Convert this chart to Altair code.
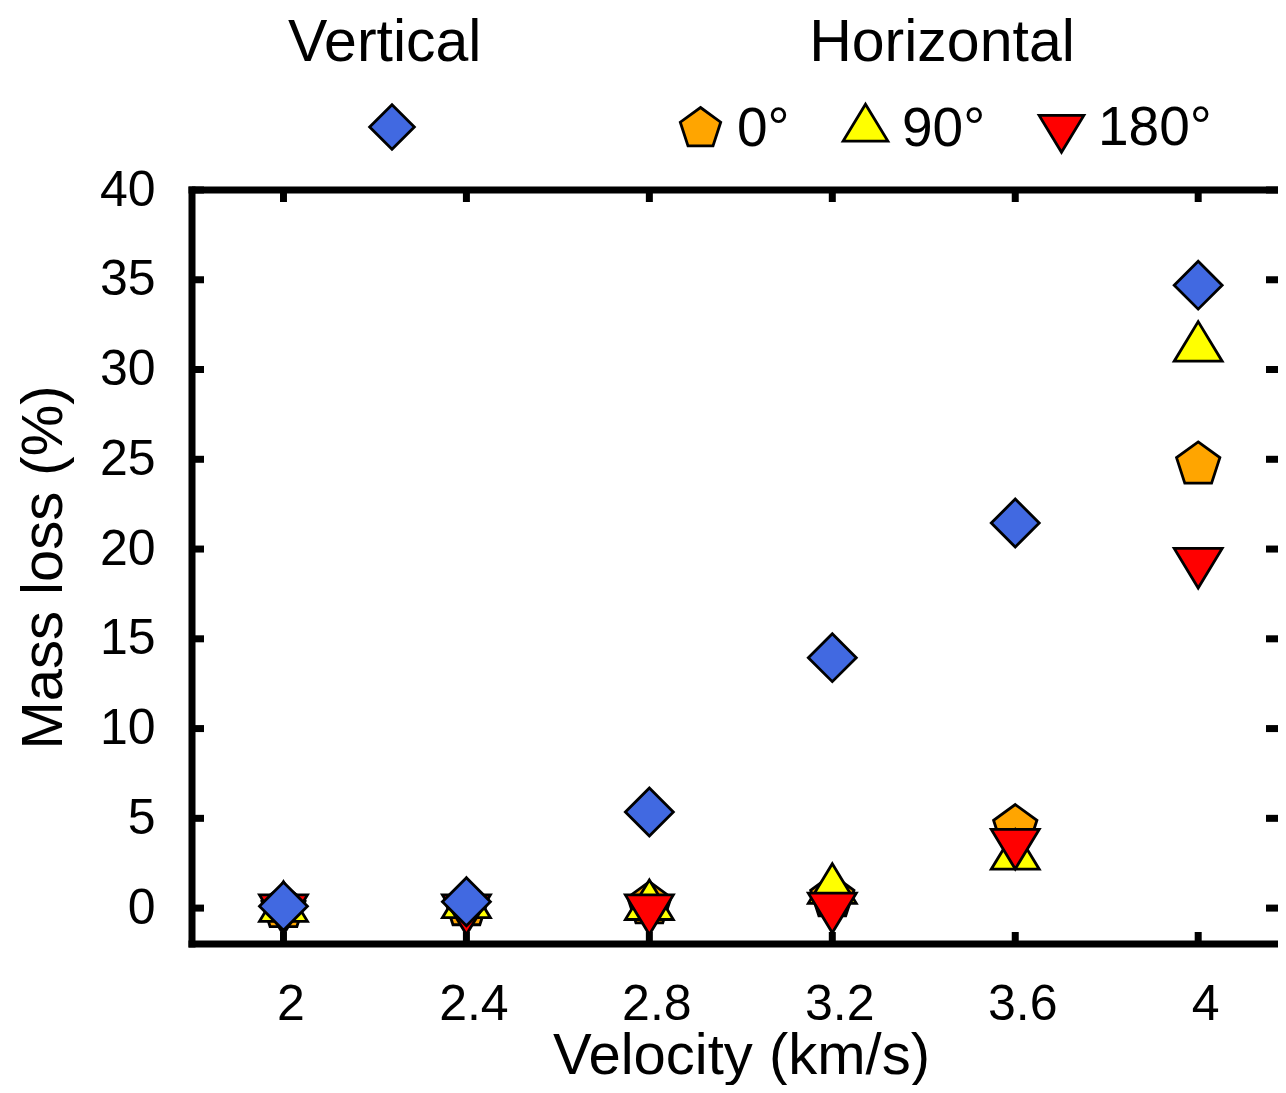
import altair as alt
import pandas as pd

# ---- data ----
velocity = [2.0, 2.4, 2.8, 3.2, 3.6, 4.0]
vertical = [0.1, 0.35, 5.35, 13.95, 21.45, 34.7]
h_0 = [0.0, 0.1, 0.2, 0.6, 4.5, 24.7]
h_90 = [0.0, 0.2, 0.1, 1.0, 2.9, 31.2]
h_180 = [0.0, 0.0, 0.0, 0.1, 3.65, 19.3]
angle_labels = ["0°", "90°", "180°"]
x_ticks = [2.0, 2.4, 2.8, 3.2, 3.6, 4.0]
y_ticks = [0, 5, 10, 15, 20, 25, 30, 35, 40]
x_limits = [1.8, 4.1745]
y_limits = [-2, 40]

# ---- styles ----
BLUE = "#4169E1"
H_COLORS = ["#FFA500", "#FFFF00", "#FF0000"]
PENTAGON = "M0,-0.95L0.904,-0.294L0.559,0.769L-0.559,0.769L-0.904,-0.294Z"
TRI_UP = "M0,-1.1L1,0.55L-1,0.55Z"
TRI_DOWN = "M0,1.1L1,-0.55L-1,-0.55Z"
H_SHAPES = [PENTAGON, TRI_UP, TRI_DOWN]
FONT = "Liberation Sans"
W, H = 1086, 754

vdf = pd.DataFrame({"v": velocity, "m": vertical, "series": ["Vertical"] * len(velocity)})
rows = []
for lab, vals in zip(angle_labels, [h_0, h_90, h_180]):
    for v, m in zip(velocity, vals):
        rows.append({"v": v, "m": m, "angle": lab})
hdf = pd.DataFrame(rows)

xscale = alt.Scale(domain=x_limits, nice=False, zero=False)
yscale = alt.Scale(domain=y_limits, nice=False, zero=False)

xaxis = alt.Axis(title="Velocity (km/s)", values=x_ticks, format="~g", domain=False,
                 ticks=False, tickSize=0, grid=False, labelFontSize=50, labelFont=FONT,
                 labelColor="black", labelPadding=75, labelBaseline="alphabetic",
                 labelOffset=7, labelOverlap=False, labelFlush=False,
                 titleFontSize=58, titleFont=FONT, titleFontWeight="normal",
                 titleColor="black", titleX=549, titleY=129, titleBaseline="alphabetic")
yaxis = alt.Axis(title="Mass loss (%)", values=y_ticks, format="d", domain=False,
                 ticks=False, tickSize=0, grid=False, labelFontSize=50, labelFont=FONT,
                 labelColor="black", labelPadding=37, labelOverlap=False, labelFlush=False,
                 titleFontSize=58, titleFont=FONT, titleFontWeight="normal",
                 titleColor="black", titleX=-131, titleY=H / 2, titleBaseline="alphabetic",
                 titleAlign="center", titleAngle=-90)

X = lambda f: alt.X(f, scale=xscale, axis=xaxis)
Y = lambda f: alt.Y(f, scale=yscale, axis=yaxis)

vleg = alt.Legend(title="Vertical", orient="none", legendX=96, legendY=-176,
                  direction="horizontal", padding=0, titleFontSize=59, titleFont=FONT,
                  titleFontWeight="normal", titleColor="black", titlePadding=30,
                  titleLimit=1000, labelExpr="''", symbolSize=2000,
                  symbolStrokeWidth=2.8, symbolOffset=80)
hleg = alt.Legend(title="Horizontal", orient="none", legendX=481, legendY=-176,
                  direction="horizontal", padding=0, titleFontSize=59, titleFont=FONT,
                  titleFontWeight="normal", titleColor="black", titlePadding=27,
                  titleLimit=1000, titleAnchor="middle", labelFontSize=55, labelFont=FONT,
                  labelColor="black", labelOffset=9, labelLimit=1000, columnPadding=47,
                  gridAlign="each", symbolSize=2000, symbolStrokeWidth=2.8)

# frame lines (top, bottom, left) and inward ticks
frame_h = alt.Chart(pd.DataFrame({"yb": [y_limits[0], y_limits[1]]})).mark_rule(
    color="black", strokeWidth=7, strokeCap="square").encode(y=Y("yb:Q"))
frame_v = alt.Chart(pd.DataFrame({"xb": [x_limits[0]]})).mark_rule(
    color="black", strokeWidth=7, strokeCap="square").encode(x=X("xb:Q"))

ydf = pd.DataFrame({"t": y_ticks})
xdf = pd.DataFrame({"t": x_ticks})
tick_l = alt.Chart(ydf).mark_rule(color="black", strokeWidth=7).encode(
    y=Y("t:Q"), x=alt.value(0), x2=alt.value(12))
tick_r = alt.Chart(ydf).mark_rule(color="black", strokeWidth=7).encode(
    y=Y("t:Q"), x=alt.value(W - 12), x2=alt.value(W))
tick_t = alt.Chart(xdf).mark_rule(color="black", strokeWidth=7).encode(
    x=X("t:Q"), y=alt.value(0), y2=alt.value(12))
tick_b = alt.Chart(xdf).mark_rule(color="black", strokeWidth=7).encode(
    x=X("t:Q"), y=alt.value(H - 12), y2=alt.value(H))

hpts = alt.Chart(hdf).mark_point(filled=True, size=2300, strokeWidth=2.8, opacity=1).encode(
    x=X("v:Q"), y=Y("m:Q"),
    shape=alt.Shape("angle:N", scale=alt.Scale(domain=angle_labels, range=H_SHAPES), legend=hleg),
    fill=alt.Fill("angle:N", scale=alt.Scale(domain=angle_labels, range=H_COLORS), legend=hleg),
    stroke=alt.Stroke("angle:N", scale=alt.Scale(domain=angle_labels, range=["black"] * 3), legend=hleg),
)
vpts = alt.Chart(vdf).mark_point(filled=True, size=2300, strokeWidth=2.8, opacity=1).encode(
    x=X("v:Q"), y=Y("m:Q"),
    shape=alt.Shape("series:N", scale=alt.Scale(domain=["Vertical"], range=["diamond"]), legend=vleg),
    fill=alt.Fill("series:N", scale=alt.Scale(domain=["Vertical"], range=[BLUE]), legend=vleg),
    stroke=alt.Stroke("series:N", scale=alt.Scale(domain=["Vertical"], range=["black"]), legend=vleg),
)

chart = alt.layer(frame_h, frame_v, tick_l, tick_r, tick_t, tick_b, hpts, vpts).resolve_scale(
    shape="independent", fill="independent", stroke="independent"
).properties(
    width=W, height=H,
    autosize=alt.AutoSizeParams(type="none"),
    padding={"left": 184, "top": 182, "right": 0, "bottom": 141},
).configure_view(stroke=None).configure(font=FONT)

chart.save("out.html", embed_options={"renderer": "svg", "actions": False})
